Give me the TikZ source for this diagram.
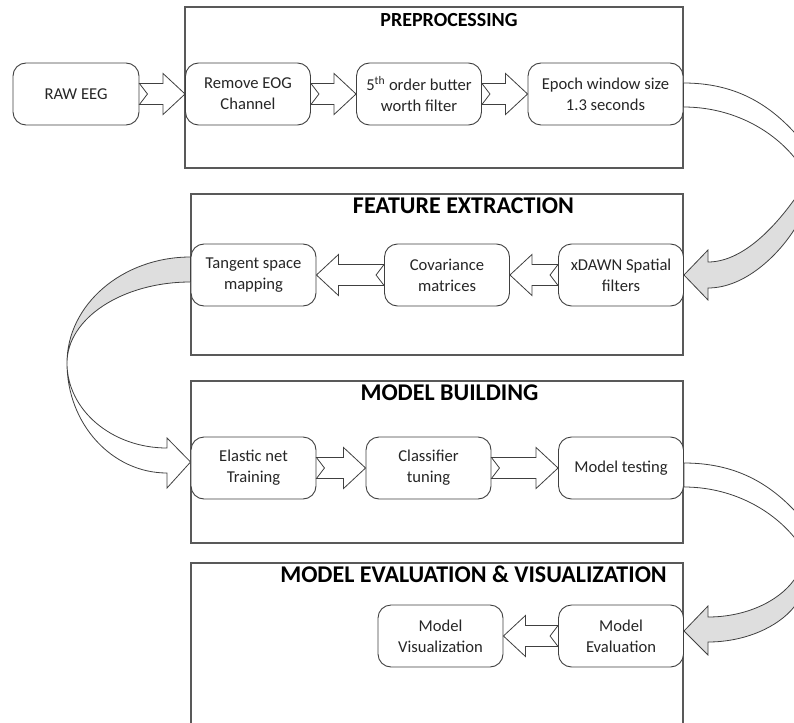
\documentclass[tikz,border=0pt]{standalone}
\usepackage{fontspec}
\setmainfont{Carlito}
\usetikzlibrary{calc}

\newcommand{\boxfont}{\fontsize{16.6}{21}\selectfont}
\newcommand{\titlefont}{\fontsize{24}{28}\selectfont\bfseries}

\tikzset{
  stepbox/.style={draw=black!75, line width=0.9pt, fill=white, rounded corners=13pt,
    minimum width=125pt, minimum height=62pt, align=center, inner sep=2pt,
    font=\boxfont, text=black!85},
  section/.style={draw=black!65, line width=1.4pt, inner sep=0pt},
  sectitle/.style={font=\titlefont, inner sep=0pt},
  flowarrow/.style={draw=black!75, line width=0.8pt, fill=white},
  ribbon/.style={draw=black!75, line width=0.8pt}
}

% hollow block arrow with a notched tail, from #1 to #2 (horizontal)
\newcommand{\blockarrow}[2]{%
  \draw[flowarrow] let \p1=(#1), \p2=(#2), \n1={sign(\x2-\x1)} in
    (\x1,{\y1+10.5pt}) -- ({\x2-(\n1)*22pt},{\y1+10.5pt}) -- ({\x2-(\n1)*22pt},{\y1+20.5pt})
    -- (\x2,\y1) -- ({\x2-(\n1)*22pt},{\y1-20.5pt}) -- ({\x2-(\n1)*22pt},{\y1-10.5pt})
    -- (\x1,{\y1-10.5pt}) -- ({\x1+(\n1)*8pt},\y1) -- cycle;}

\begin{document}
\begin{tikzpicture}[x=1pt,y=-1pt]
\useasboundingbox (0,0) rectangle (794,722);
\clip (0,0) rectangle (794,722);

% the four stages
\node[section, minimum width=498pt, minimum height=161pt] (pre) at (434,87.5) {};
\node[section, minimum width=492pt, minimum height=161pt] (feat) at (437,274.5) {};
\node[section, minimum width=492pt, minimum height=162pt] (build) at (437,462) {};
\node[section, minimum width=492pt, minimum height=200pt] (evalsec) at (437,663) {};

\node[sectitle, font=\fontsize{20}{24}\selectfont\bfseries] (tpre) at (449,20) {PREPROCESSING};
\node[sectitle] (tfeat) at (463.5,206) {FEATURE EXTRACTION};
\node[sectitle] (tbuild) at (449.5,393) {MODEL BUILDING};
\node[sectitle] (teval) at (473.5,574) {MODEL EVALUATION \& VISUALIZATION};

% steps
\node[stepbox, minimum width=126pt] (raw) at (76,94) {RAW EEG};
\node[stepbox] (eog) at (248,94) {Remove EOG\\Channel};
\node[stepbox] (butter) at (419,94) {5\textsuperscript{th} order butter\\worth filter};
\node[stepbox, minimum width=155pt] (epoch) at (605.5,94) {Epoch window size\\1.3 seconds};

\node[stepbox] (tangent) at (253.5,275) {Tangent space\\mapping};
\node[stepbox] (cov) at (447,275) {Covariance\\matrices};
\node[stepbox] (xdawn) at (621,275) {xDAWN Spatial\\filters};

\node[stepbox] (elastic) at (253.5,468) {Elastic net\\Training};
\node[stepbox] (clf) at (428.5,468) {Classifier\\tuning};
\node[stepbox] (test) at (621,468) {Model testing};

\node[stepbox] (vis) at (440.5,636) {Model\\Visualization};
\node[stepbox] (eval) at (621,636) {Model\\Evaluation};

% straight arrows
\blockarrow{raw.east}{eog.west}
\blockarrow{eog.east}{butter.west}
\blockarrow{butter.east}{epoch.west}
\blockarrow{xdawn.west}{cov.east}
\blockarrow{cov.west}{tangent.east}
\blockarrow{elastic.east}{clf.west}
\blockarrow{clf.east}{test.west}
\blockarrow{eval.west}{vis.east}

% curved arrows between stages
\coordinate (tr1) at (835,190);
\filldraw[ribbon, fill=white] ($(epoch.east)+(0,-11)$) .. controls (735,83) and (768,104) .. (794,132)
  .. controls (812,151) and (830,170) .. (tr1) .. controls (825,180) and (805,170) .. (794,157)
  .. controls (770,128) and (730,107) .. ($(epoch.east)+(0,13)$) -- cycle;
\filldraw[ribbon, fill=black!13] (tr1) .. controls (825,195) and (802,189) .. (794,200)
  .. controls (778,222) and (745,262) .. (708,262) -- (708,250) -- (xdawn.east) -- (708,300)
  -- (708,288) .. controls (745,288) and (778,255) .. (794,230)
  .. controls (806,211) and (830,200) .. (tr1) -- cycle;

\coordinate (tl) at (67,363);
\filldraw[ribbon, fill=black!13] ($(tangent.west)+(0,-18)$) .. controls (122.5,257) and (67,304.5) .. (tl)
  .. controls (67,318.3) and (122.5,282) .. ($(tangent.west)+(0,7)$) -- cycle;
\filldraw[ribbon, fill=white] (tl) .. controls (67,423.8) and (111.8,473) .. (167,473) -- (167,488)
  -- ($(elastic.west)+(0,-6)$) -- (167,438) -- (167,448)
  .. controls (111.8,448) and (67,410) .. (tl) -- cycle;

\coordinate (tr2) at (835,560);
\filldraw[ribbon, fill=white] ($(test.east)+(0,-5)$) .. controls (735,463) and (768,483) .. (794,510)
  .. controls (812,529) and (830,545) .. (tr2) .. controls (825,552) and (803,548) .. (794,537)
  .. controls (770,508) and (730,487) .. ($(test.east)+(0,19)$) -- cycle;
\filldraw[ribbon, fill=black!13] (tr2) .. controls (825,565) and (802,569) .. (794,580)
  .. controls (778,602) and (745,617) .. (708,617) -- (708,606) -- ($(eval.east)+(0,-5)$) -- (708,655)
  -- (708,642) .. controls (745,642) and (778,627) .. (794,607)
  .. controls (806,592) and (830,570) .. (tr2) -- cycle;
\end{tikzpicture}
\end{document}
